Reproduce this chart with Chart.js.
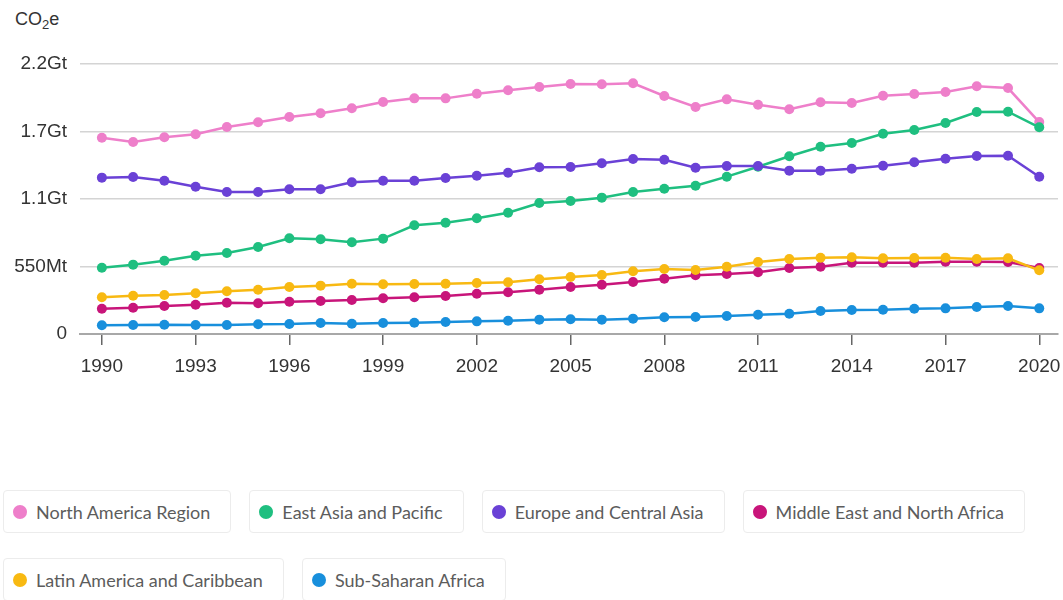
<!DOCTYPE html>
<html>
<head>
<meta charset="utf-8">
<script src="https://cdn.jsdelivr.net/npm/chart.js@4.4.1/dist/chart.umd.min.js"></script>
<style>
  body { margin: 0; background: #fff; }
  #wrap { position: relative; width: 1063px; height: 600px; overflow: hidden; }
  #unit { position: absolute; left: 15px; top: 9px; font: 18px "Liberation Sans", Arial, sans-serif; color: #333; }
  #unit sub { font-size: 13px; vertical-align: -4px; line-height: 0; }
  #chartBox { position: absolute; left: 0; top: 0; width: 1063px; height: 400px; }
  #legend { position: absolute; left: 3px; top: 490px; width: 1050px; display: flex; flex-wrap: wrap; column-gap: 18px; row-gap: 25px; }
  .item { display: flex; align-items: center; height: 41px; padding: 0 20px 0 9px; border: 1.5px solid #ececec; border-radius: 4px;
          font: 18px Lato, sans-serif; color: #5c5c5c; }
  .dot { width: 14px; height: 14px; border-radius: 50%; margin-right: 9px; }
</style>
</head>
<body>
<div id="wrap">
  <div id="unit">CO<sub>2</sub>e</div>
  <div id="chartBox"><canvas id="emissionsChart"></canvas></div>
  <div id="legend"></div>
</div>
<script>
const years = [];
for (let y = 1990; y <= 2020; y++) years.push(y);

// values in Mt CO2e
const northAmerica = [1599, 1564, 1603, 1627, 1687, 1725, 1768, 1798, 1839, 1890, 1920, 1920, 1958, 1986, 2013, 2037, 2035, 2043, 1939, 1850, 1912, 1868, 1831, 1888, 1882, 1942, 1956, 1972, 2018, 2004, 1727];
const eastAsia = [540, 565, 597, 638, 660, 709, 780, 772, 747, 777, 886, 907, 943, 988, 1067, 1084, 1111, 1157, 1184, 1208, 1282, 1363, 1448, 1526, 1556, 1632, 1662, 1719, 1809, 1811, 1684];
const europe = [1274, 1279, 1249, 1200, 1157, 1157, 1179, 1179, 1236, 1249, 1248, 1271, 1290, 1314, 1358, 1361, 1391, 1426, 1420, 1355, 1369, 1369, 1331, 1331, 1347, 1371, 1399, 1428, 1450, 1453, 1282];
const middleEast = [206, 214, 228, 239, 255, 250, 263, 269, 277, 291, 300, 310, 328, 340, 361, 383, 402, 424, 451, 478, 489, 503, 538, 548, 581, 581, 581, 589, 589, 587, 538];
const latinAmerica = [299, 312, 318, 332, 348, 361, 383, 394, 410, 405, 407, 410, 416, 421, 446, 464, 481, 511, 530, 521, 548, 587, 611, 622, 625, 617, 619, 622, 611, 617, 519];
const subSaharan = [71, 73, 76, 73, 73, 79, 81, 90, 84, 90, 92, 98, 103, 108, 117, 120, 117, 125, 136, 139, 147, 157, 165, 187, 196, 198, 206, 209, 220, 228, 209];

const seriesNames = ['North America Region', 'East Asia and Pacific', 'Europe and Central Asia', 'Middle East and North Africa', 'Latin America and Caribbean', 'Sub-Saharan Africa'];
const seriesValues = [northAmerica, eastAsia, europe, middleEast, latinAmerica, subSaharan];
const seriesColors = ['#ee7fca', '#1fbf80', '#6a41d6', '#c8157a', '#f8b912', '#188fdc'];

const xTickValues = [1990, 1993, 1996, 1999, 2002, 2005, 2008, 2011, 2014, 2017, 2020];
const yTickValues = [0, 550, 1100, 1650, 2200];
const yTickLabels = ['0', '550Mt', '1.1Gt', '1.7Gt', '2.2Gt'];

const datasets = seriesNames.map((name, i) => ({
    label: name,
    data: years.map((yr, j) => ({ x: yr, y: seriesValues[i][j] })),
    borderColor: seriesColors[i],
    backgroundColor: seriesColors[i],
    pointBackgroundColor: seriesColors[i],
    pointBorderColor: seriesColors[i],
    borderWidth: 2.5,
    pointRadius: 5,
    pointBorderWidth: 0,
    tension: 0,
    clip: false,
    order: -i // later series are drawn on top
}));

const axisFont = { family: '"Liberation Sans", Arial, sans-serif', size: 19 };

new Chart(document.getElementById('emissionsChart'), {
    type: 'line',
    data: { datasets: datasets },
    options: {
        responsive: true,
        maintainAspectRatio: false,
        animation: false,
        layout: { padding: { top: 64, right: 0, bottom: 0, left: 0 } },
        scales: {
            x: {
                type: 'linear',
                min: 1989.3,
                max: 2020.6,
                afterBuildTicks: scale => { scale.ticks = xTickValues.map(v => ({ value: v })); },
                afterFit: scale => {
                    scale.height = 66;
                    scale.paddingLeft = 0;
                    scale.paddingRight = 0;
                },
                ticks: { color: '#333', font: axisFont, padding: 10, maxRotation: 0, callback: v => String(v) },
                grid: { drawOnChartArea: false, drawTicks: true, tickLength: 11, color: '#666', lineWidth: 1.5 },
                border: { display: true, color: '#a8a8a8', width: 2 }
            },
            y: {
                min: 0,
                max: 2200,
                afterBuildTicks: scale => { scale.ticks = yTickValues.map(v => ({ value: v })); },
                afterFit: scale => { scale.width = 80; },
                ticks: {
                    color: '#333',
                    font: axisFont,
                    padding: 13,
                    callback: v => yTickLabels[yTickValues.indexOf(v)]
                },
                grid: { color: '#d4d4d4', lineWidth: 1.5, drawTicks: false },
                border: { display: false }
            }
        },
        plugins: { legend: { display: false }, tooltip: { enabled: false } }
    }
});

// html legend boxes under the chart
const legend = document.getElementById('legend');
seriesNames.forEach((name, i) => {
    const item = document.createElement('div');
    item.className = 'item';
    item.innerHTML = `<span class="dot" style="background:${seriesColors[i]}"></span><span>${name}</span>`;
    legend.appendChild(item);
});
</script>
</body>
</html>
